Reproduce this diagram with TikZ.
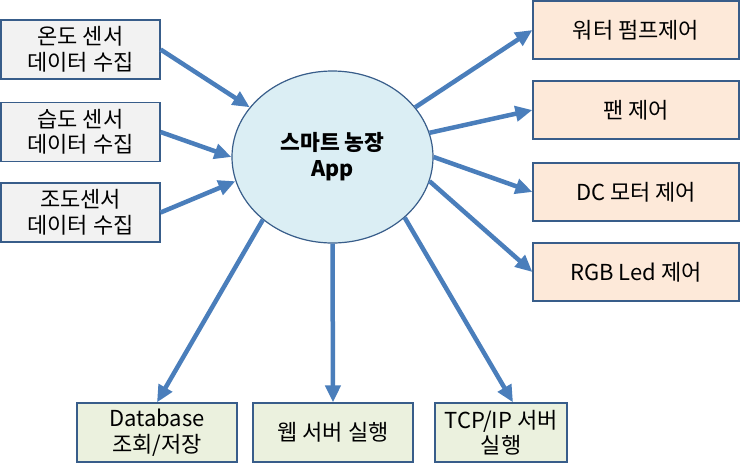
\documentclass[tikz,border=0pt]{standalone}
\usepackage{fontspec}
\setmainfont{Noto Sans CJK KR}
\usetikzlibrary{arrows.meta,shapes.geometric}
\definecolor{arr}{HTML}{4A7EBB}
\definecolor{bord}{HTML}{385D8A}
\definecolor{lfill}{HTML}{F2F2F2}
\definecolor{rfill}{HTML}{FDE9D9}
\definecolor{bfill}{HTML}{EBF1DE}
\definecolor{efill}{HTML}{DBEEF4}
\begin{document}
\begin{tikzpicture}[x=1pt,y=-1pt,
  box/.style={draw=bord, line width=1.2pt, align=center, inner sep=0pt,
    font=\fontsize{22}{25.5}\selectfont},
  lbox/.style={box, fill=lfill, minimum width=159pt, minimum height=59pt},
  rbox/.style={box, fill=rfill, minimum width=206pt, minimum height=58pt},
  bbox/.style={box, fill=bfill, minimum height=59pt},
  conn/.style={draw=arr, line width=4.5pt, -{Triangle[length=17pt,width=15pt]}}]
\useasboundingbox (0,0) rectangle (741,469);
% center
\node[ellipse, draw=bord, line width=1.2pt, fill=efill, minimum width=201pt,
  minimum height=172pt, inner sep=0pt, align=center,
  font=\fontsize{21.5}{26}\selectfont\bfseries] (app) at (332.5,157) {스마트 농장\\App};
% left
\node[lbox] (l1) at (80.5,49.5) {온도 센서\\데이터 수집};
\node[lbox] (l2) at (80.5,132) {습도 센서\\데이터 수집};
\node[lbox] (l3) at (80.5,212.5) {조도센서\\데이터 수집};
% right
\node[rbox] (r1) at (636,30) {워터 펌프제어};
\node[rbox] (r2) at (636,110) {팬 제어};
\node[rbox] (r3) at (636,192) {DC 모터 제어};
\node[rbox] (r4) at (636,272) {RGB Led 제어};
% bottom
\node[bbox, minimum width=160pt] (b1) at (157,432.5) {Database\\조회/저장};
\node[bbox, minimum width=160pt] (b2) at (333,432.5) {웹 서버 실행};
\node[bbox, minimum width=132pt] (b3) at (501,432.5) {TCP/IP 서버\\실행};
% connectors
\draw[conn] (l1.east) -- (app.149.3);
\draw[conn] (l2.east) -- (app.180);
\draw[conn] (l3.east) -- (app.194.6);
\draw[conn] (app.31.7) -- (r1.west);
\draw[conn] (app.14.4) -- (r2.west);
\draw[conn] (app.0) -- (r3.west);
\draw[conn] (app.-14.9) -- (r4.west);
\draw[conn] (app.222.2) -- (b1.north);
\draw[conn] (app.270) -- (b2.north);
\draw[conn] (app.-40.9) -- ([xshift=12pt]b3.north);
\end{tikzpicture}
\end{document}
